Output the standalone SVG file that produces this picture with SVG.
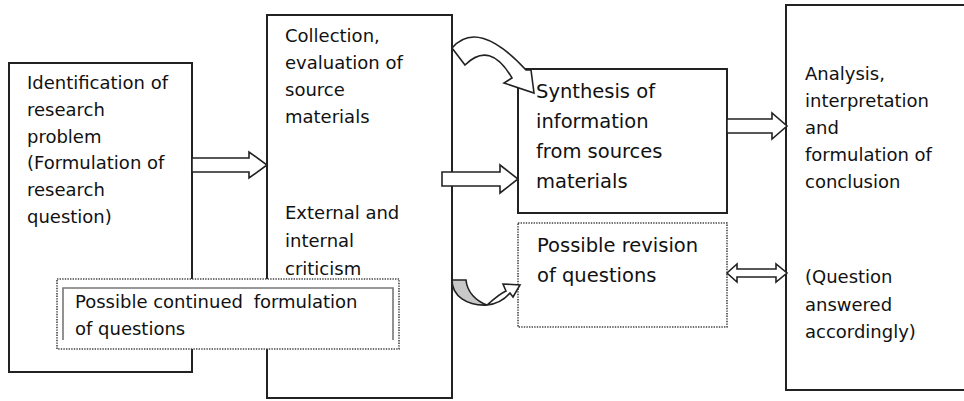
<svg xmlns="http://www.w3.org/2000/svg" width="964" height="401" viewBox="0 0 964 401">
  <style>
    .box { fill: #fff; stroke: #222; stroke-width: 2; }
    .dot { fill: #fff; stroke: #444; stroke-width: 1.6; stroke-dasharray: 1.4 1.2; }
    .inner { fill: none; stroke: #777; stroke-width: 1.6; }
    .arrow { fill: #fff; stroke: #222; stroke-width: 1.6; stroke-linejoin: miter; }
    .shade { fill: #c8c8c8; stroke: #222; stroke-width: 1.6; }
    text { font-family: "DejaVu Sans", "Liberation Sans", sans-serif; fill: #111; }
    .t18 { font-size: 18px; }
    .t19 { font-size: 19.5px; }
  </style>

  <!-- Identification box -->
  <g id="identification">
    <rect class="box" x="9" y="63" width="183" height="309"/>
    <text class="t18" x="27" y="89">Identification of</text>
    <text class="t18" x="27" y="116">research</text>
    <text class="t18" x="27" y="143">problem</text>
    <text class="t18" x="27" y="169">(Formulation of</text>
    <text class="t18" x="27" y="196">research</text>
    <text class="t18" x="27" y="223">question)</text>
  </g>

  <!-- Collection / criticism box -->
  <g id="collection">
    <rect class="box" x="267" y="15" width="185" height="383"/>
    <text class="t18" x="285" y="42">Collection,</text>
    <text class="t18" x="285" y="69">evaluation of</text>
    <text class="t18" x="285" y="96">source</text>
    <text class="t18" x="285" y="123">materials</text>
    <text class="t18" x="285" y="219">External and</text>
    <text class="t18" x="285" y="247">internal</text>
    <text class="t18" x="285" y="275">criticism</text>
  </g>

  <!-- Synthesis box -->
  <g id="synthesis">
    <rect class="box" x="518" y="69" width="209" height="144"/>
    <text class="t19" x="536" y="98">Synthesis of</text>
    <text class="t19" x="536" y="128">information</text>
    <text class="t19" x="536" y="158">from sources</text>
    <text class="t19" x="536" y="188">materials</text>
  </g>

  <!-- Revision box -->
  <g id="revision">
    <rect class="dot" x="518" y="223" width="209" height="104"/>
    <text class="t19" x="537" y="252">Possible revision</text>
    <text class="t19" x="537" y="282">of questions</text>
  </g>

  <!-- Analysis box (runs past the right edge) -->
  <g id="analysis">
    <rect class="box" x="786" y="5" width="220" height="385"/>
    <text class="t18" x="805" y="80">Analysis,</text>
    <text class="t18" x="805" y="107">interpretation</text>
    <text class="t18" x="805" y="134">and</text>
    <text class="t18" x="805" y="161">formulation of</text>
    <text class="t18" x="805" y="188">conclusion</text>
    <text class="t18" x="805" y="283">(Question</text>
    <text class="t18" x="805" y="311">answered</text>
    <text class="t18" x="805" y="338">accordingly)</text>
  </g>

  <!-- Continued formulation box, drawn over the first two boxes -->
  <g id="continued">
    <rect class="dot" x="57" y="279" width="342" height="70"/>
    <path class="inner" d="M63,340 V288 H393 V340"/>
    <text class="t18" x="75" y="308">Possible continued <tspan dx="5">formulation</tspan></text>
    <text class="t18" x="75" y="335">of questions</text>
  </g>

  <!-- Connectors -->
  <g id="connectors">
    <polygon class="arrow" points="192,158 249,158 249,152 267,165 249,178 249,172 192,172"/>
    <polygon class="arrow" points="442,172 500,172 500,165 518,179 500,193 500,186 442,186"/>
    <polygon class="arrow" points="727,119 772,119 772,113 787,126 772,139 772,133 727,133"/>
    <polygon class="arrow" points="727,273 737,264 737,269 776,269 776,264 787,273 776,282 776,277 737,277 737,282"/>
    <path class="arrow" d="M452,48 Q478,18 526,70 L531,70 L534,93 L504,83 L512,78 Q490,40 465,65 Z"/>
    <path class="shade" d="M452,280 L466,280 C467,292 476,301 487,305 C467,306 452,296 452,280 Z"/>
    <path class="arrow" d="M487,305 C495,298 501,293 506,291 L503,284 L520,285 L513,297 L510,293 C504,300 496,304 487,305 Z"/>
  </g>
</svg>
